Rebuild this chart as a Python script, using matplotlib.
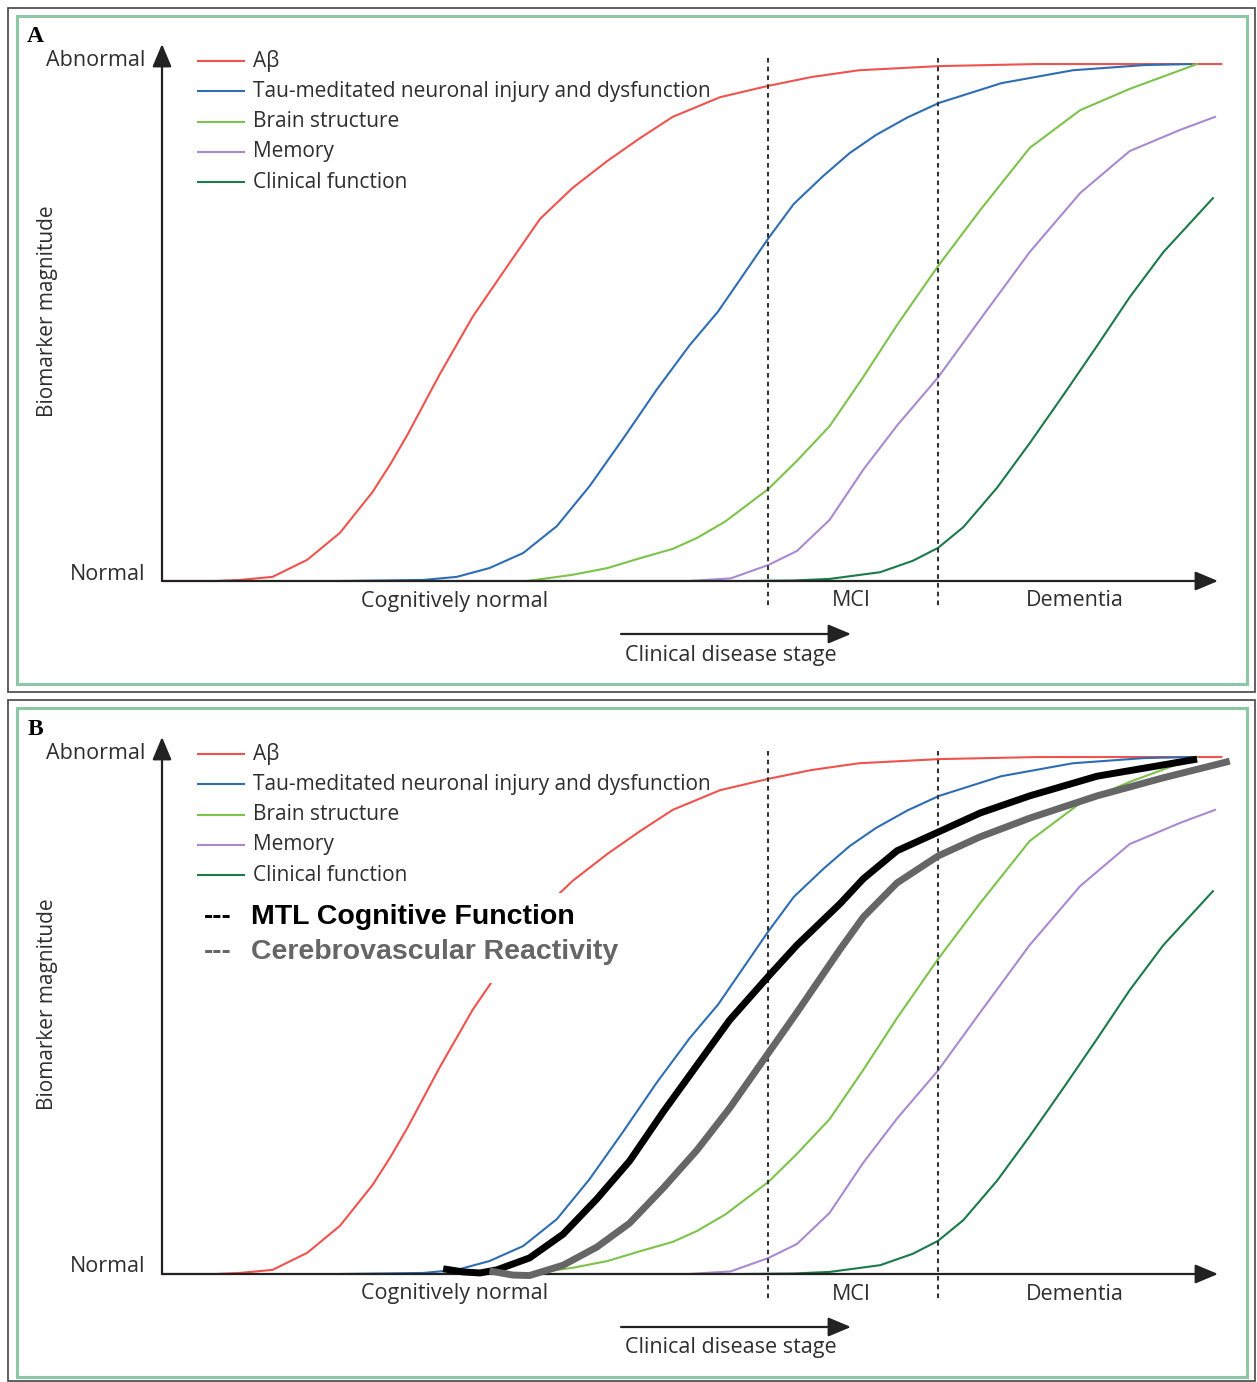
import matplotlib.pyplot as plt
from matplotlib.patches import Rectangle

# figure size in pixels (dpi 100)
W, H = 1257, 1382

# curve data: x = disease stage (0 = y axis, 100 = x-axis arrow tip), y = biomarker magnitude (0 normal, 1 abnormal)
ab_x = [0, 5.0, 7.4, 10.5, 13.8, 16.9, 20.0, 21.7, 23.3, 26.4, 29.5, 32.8, 35.9, 39.0, 42.3, 45.4,
        48.5, 53.0, 57.6, 61.7, 66.2, 73.8, 83.1, 100.6]
ab_y = [0, 0.0, 0.002, 0.008, 0.041, 0.093, 0.172, 0.226, 0.282, 0.400, 0.510, 0.608, 0.699, 0.759, 0.811, 0.855,
        0.896, 0.934, 0.956, 0.973, 0.986, 0.994, 0.998, 0.998]

tau_x = [16.9, 24.8, 28.0, 31.1, 34.3, 37.5, 40.6, 43.8, 47.0, 50.1, 52.8, 55.0, 57.6, 60.0, 62.8, 65.3,
         67.8, 70.8, 73.8, 79.7, 86.5, 93.3, 97.7]
tau_y = [0.0, 0.002, 0.008, 0.025, 0.054, 0.106, 0.183, 0.275, 0.370, 0.455, 0.520, 0.585, 0.662, 0.728, 0.782, 0.826,
         0.861, 0.895, 0.923, 0.961, 0.986, 0.996, 0.998]

brain_x = [34.7, 39.0, 42.3, 45.4, 48.5, 50.8, 53.5, 57.6, 60.3, 63.4, 66.6, 69.8, 73.7, 77.7, 82.4, 87.2, 91.9, 98.3]
brain_y = [0.0, 0.012, 0.025, 0.044, 0.062, 0.083, 0.115, 0.178, 0.232, 0.299, 0.394, 0.494, 0.608, 0.716, 0.836,
           0.909, 0.950, 0.998]

mem_x = [41.6, 50.0, 54.0, 57.6, 60.3, 63.4, 66.6, 69.8, 73.7, 77.7, 82.4, 87.2, 91.9, 96.7, 100.0]
mem_y = [0.0, 0.0, 0.005, 0.031, 0.058, 0.118, 0.215, 0.300, 0.393, 0.505, 0.635, 0.749, 0.830, 0.871, 0.896]

clin_x = [55.3, 60.0, 63.4, 68.2, 71.3, 73.7, 76.1, 79.3, 82.4, 85.6, 88.8, 91.9, 95.1, 99.8]
clin_y = [0.0, 0.001, 0.004, 0.017, 0.039, 0.064, 0.104, 0.180, 0.266, 0.359, 0.454, 0.548, 0.635, 0.739]

mtl_x = [26.7, 28.6, 30.2, 31.8, 34.9, 38.1, 41.3, 44.4, 47.6, 50.8, 53.9, 57.6, 60.3, 64.4, 66.6, 69.8,
         73.7, 77.7, 82.4, 88.8, 98.3]
mtl_y = [0.010, 0.004, 0.002, 0.008, 0.031, 0.077, 0.145, 0.218, 0.313, 0.403, 0.490, 0.575, 0.635, 0.715, 0.763,
         0.817, 0.853, 0.890, 0.923, 0.961, 0.994]

cvr_x = [31.1, 33.3, 34.9, 38.1, 41.3, 44.4, 47.6, 50.8, 53.9, 57.6, 60.3, 64.4, 66.6, 69.8, 73.7, 77.7,
         82.4, 88.8, 95.1, 101.4]
cvr_y = [0.006, -0.002, -0.003, 0.017, 0.052, 0.098, 0.166, 0.239, 0.320, 0.427, 0.505, 0.627, 0.689, 0.755, 0.807,
         0.844, 0.880, 0.923, 0.958, 0.990]

curves_x = [ab_x, tau_x, brain_x, mem_x, clin_x]
curves_y = [ab_y, tau_y, brain_y, mem_y, clin_y]
legend_labels = ["Aβ", "Tau-meditated neuronal injury and dysfunction",
                 "Brain structure", "Memory", "Clinical function"]
colors = ["#f0534d", "#2f6db3", "#7dc24a", "#a98ad0", "#1b7a48"]

stage_labels = ["Cognitively normal", "MCI", "Dementia"]
stage_pos = [27.8, 65.5, 86.7]
stage_bounds = [57.55, 73.7]

extra_labels = ["MTL Cognitive Function", "Cerebrovascular Reactivity"]
extra_colors = ["#000000", "#666666"]

TXT = "#2e2e2e"
FONT = ["Open Sans", "DejaVu Sans"]


def X(px):
    return (px - 162) / 10.53


def Y(py):
    # py measured from the panel top
    return (581 - py) / 518


def draw_panel(ax, letter, h, extra=False):
    ax.set_xlim(X(0), X(W))
    ax.set_ylim(Y(h), Y(0))
    ax.axis("off")

    for xs, ys, c in zip(curves_x, curves_y, colors):
        ax.plot(xs, ys, color=c, lw=1.5, zorder=2, clip_on=False, solid_joinstyle="round")

    # axes arrows
    arr = dict(arrowstyle="-|>,head_length=1.0,head_width=0.42", lw=1.6, color="#222222",
               mutation_scale=14, shrinkA=0, shrinkB=0)
    ax.annotate("", xy=(0, Y(44)), xytext=(0, 0), arrowprops=arr, zorder=3)
    ax.annotate("", xy=(X(1218), 0), xytext=(0, 0), arrowprops=arr, zorder=3)

    for b in stage_bounds:
        ax.plot([b, b], [Y(58), Y(606)], color="#333333", lw=1.5,
                linestyle=(0, (2.2, 2.0)), zorder=2)

    ax.text(X(145), Y(60), "Abnormal", ha="right", va="center", fontsize=15.5, color=TXT, family=FONT)
    ax.text(X(145), Y(574), "Normal", ha="right", va="center", fontsize=15.5, color=TXT, family=FONT)
    ax.text(X(48), Y(311), "Biomarker magnitude", rotation=90, ha="center", va="center",
            fontsize=15, color=TXT, family=FONT)

    for lab, pos in zip(stage_labels, stage_pos):
        ax.text(pos, Y(601), lab, ha="center", va="center", fontsize=15.5, color=TXT, family=FONT)

    ax.annotate("", xy=(X(851), Y(634)), xytext=(X(621), Y(634)), arrowprops=arr, zorder=3)
    ax.text(X(625), Y(655), "Clinical disease stage", ha="left", va="center",
            fontsize=15.5, color=TXT, family=FONT)

    for i, (lab, c) in enumerate(zip(legend_labels, colors)):
        yy = Y(61 + 30.3 * i)
        ax.plot([X(198), X(244)], [yy, yy], color=c, lw=1.5)
        ax.text(X(253), yy, lab, ha="left", va="center", fontsize=15, color=TXT, family=FONT)

    ax.text(X(35), Y(36), letter, ha="center", va="center", fontsize=17, fontweight="bold",
            family="Liberation Serif", color="#000000")

    if extra:
        ax.plot(mtl_x, mtl_y, color=extra_colors[0], lw=5, zorder=5, clip_on=False,
                solid_capstyle="butt", solid_joinstyle="round")
        ax.plot(cvr_x, cvr_y, color=extra_colors[1], lw=5, zorder=5, clip_on=False,
                solid_capstyle="butt", solid_joinstyle="round")
        ax.add_patch(Rectangle((X(195), Y(290)), X(645) - X(195), Y(200) - Y(290),
                               facecolor="white", edgecolor="none", zorder=6))
        for i, (lab, c) in enumerate(zip(extra_labels, extra_colors)):
            yy = Y(224 + 35 * i)
            ax.text(X(204), yy, "---", ha="left", va="center", fontsize=20, fontweight="bold",
                    family="Liberation Sans", color=c, zorder=7)
            ax.text(X(251), yy, lab, ha="left", va="center", fontsize=20.5, fontweight="bold",
                    family="Liberation Sans", color=c, zorder=7)


fig = plt.figure(figsize=(W / 100, H / 100), dpi=100)
fig.patch.set_facecolor("white")


def frame(x0, y0, x1, y1, color, lw):
    fig.patches.append(Rectangle((x0 / W, 1 - y1 / H), (x1 - x0) / W, (y1 - y0) / H,
                                 transform=fig.transFigure, fill=False, edgecolor=color, lw=lw))


frame(8, 8, 1255, 692, "#444444", 1.2)
frame(17, 16, 1247, 684, "#8cc7a6", 2.2)
frame(8, 700, 1255, 1381, "#444444", 1.2)
frame(17, 708, 1247, 1377, "#8cc7a6", 2.2)

hA = 692
axA = fig.add_axes([0, 1 - hA / H, 1, hA / H])
draw_panel(axA, "A", hA)

hB = H - 693
axB = fig.add_axes([0, 0, 1, hB / H])
draw_panel(axB, "B", hB, extra=True)

fig.savefig("out.png", dpi=100)
